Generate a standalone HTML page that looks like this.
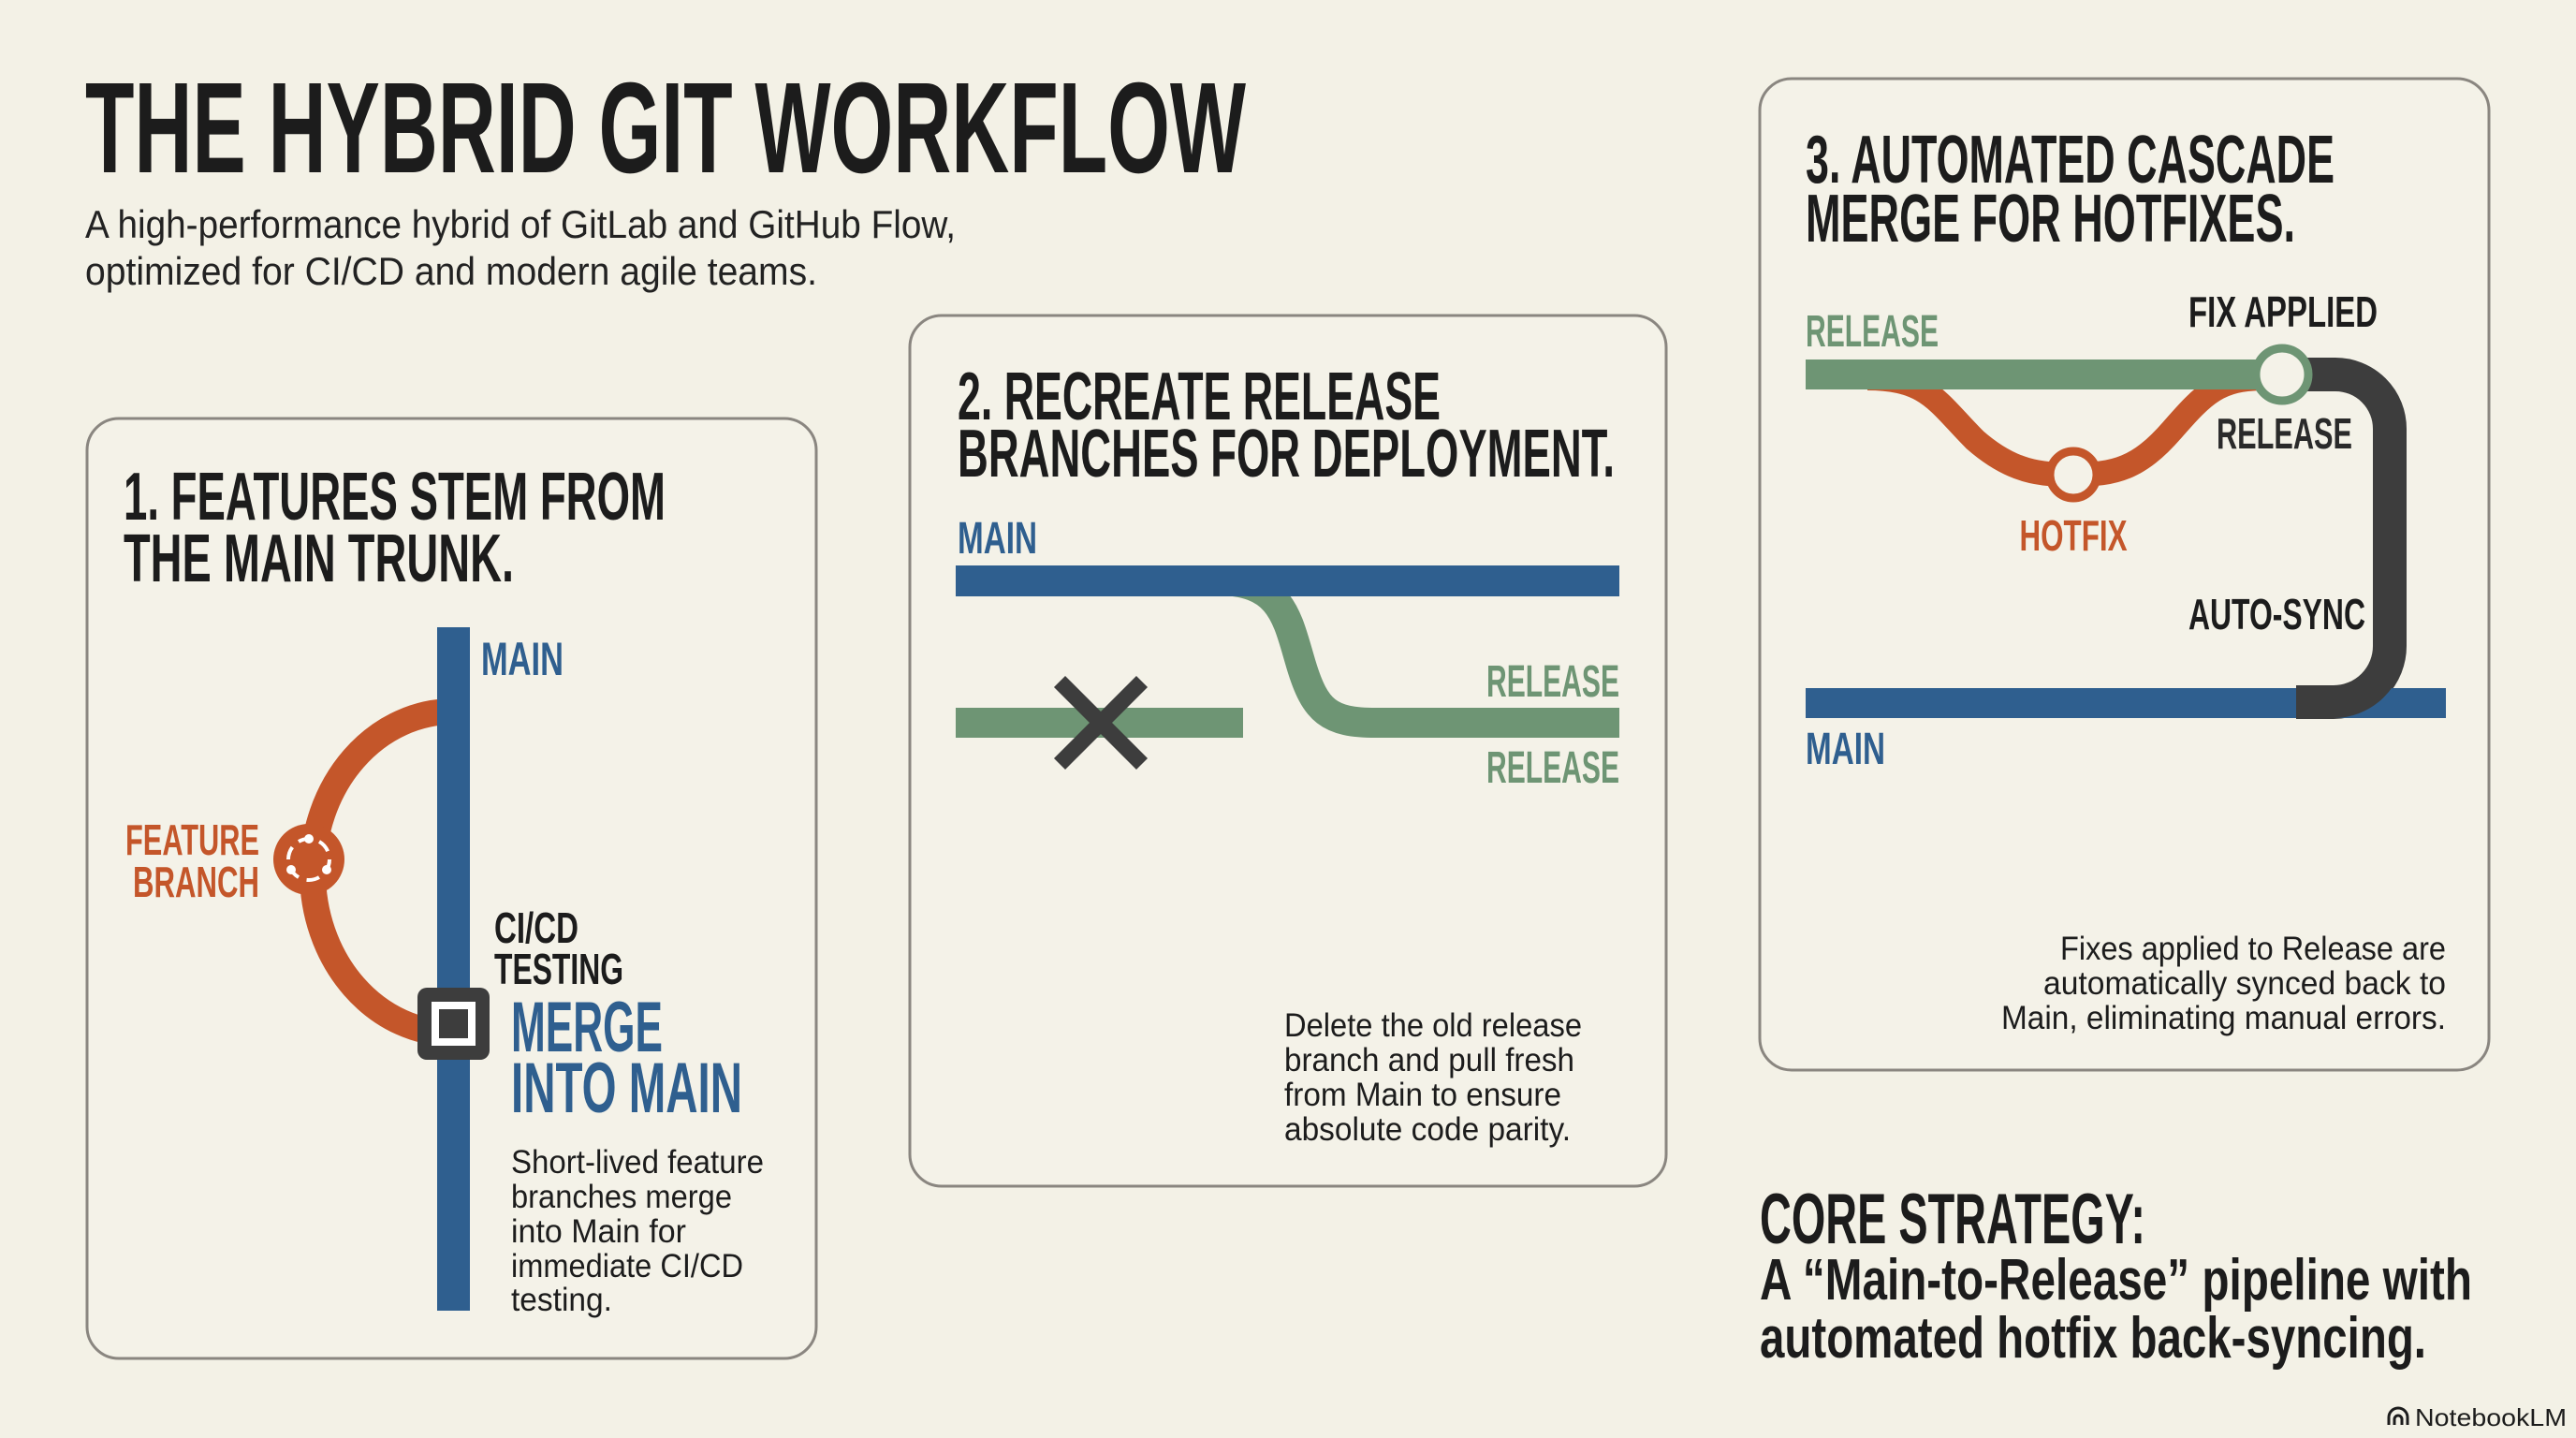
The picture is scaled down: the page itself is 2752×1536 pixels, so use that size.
<!DOCTYPE html>
<html><head><meta charset="utf-8"><style>
html,body{margin:0;padding:0;background:#f3f1e6;}
svg{display:block}
.h{font-family:"Liberation Sans Narrow","Liberation Sans",sans-serif;font-weight:bold}
.b{font-family:"Liberation Sans",sans-serif}
</style></head><body>
<svg width="2752" height="1536" viewBox="0 0 2752 1536" xmlns="http://www.w3.org/2000/svg">
<rect width="2752" height="1536" fill="#f3f1e6"/>
<!-- Title -->
<text class="h" x="91" y="184" font-size="138" fill="#1c1c1c" textLength="1240" lengthAdjust="spacingAndGlyphs">THE HYBRID GIT WORKFLOW</text>
<text class="b" x="91" y="254" font-size="42" fill="#222" textLength="930" lengthAdjust="spacingAndGlyphs">A high-performance hybrid of GitLab and GitHub Flow,</text>
<text class="b" x="91" y="304" font-size="42" fill="#222" textLength="782" lengthAdjust="spacingAndGlyphs">optimized for CI/CD and modern agile teams.</text>

<!-- Panel 1 -->
<rect x="93" y="447" width="779" height="1004" rx="34" fill="#f4f2e8" stroke="#8a8680" stroke-width="3"/>
<text class="h" x="132" y="555" font-size="72" fill="#1c1c1c" textLength="579" lengthAdjust="spacingAndGlyphs">1. FEATURES STEM FROM</text>
<text class="h" x="132" y="621" font-size="72" fill="#1c1c1c" textLength="417" lengthAdjust="spacingAndGlyphs">THE MAIN TRUNK.</text>
<path d="M484,760 A150,172 0 0 0 484,1104" fill="none" stroke="#c4562a" stroke-width="28"/>
<rect x="467" y="670" width="35" height="730" fill="#2f5f8f"/>
<text class="h" x="514" y="721" font-size="50" fill="#2f5f8f" textLength="88" lengthAdjust="spacingAndGlyphs">MAIN</text>
<circle cx="330" cy="918" r="38" fill="#c4562a"/>
<circle cx="330" cy="918" r="22" fill="none" stroke="#fff" stroke-width="4" stroke-dasharray="14 9"/>
<circle cx="330" cy="896" r="5" fill="#fff"/><circle cx="311" cy="929" r="5" fill="#fff"/><circle cx="349" cy="929" r="5" fill="#fff"/>
<text class="h" x="277" y="913" font-size="46" fill="#c4562a" text-anchor="end" textLength="143" lengthAdjust="spacingAndGlyphs">FEATURE</text>
<text class="h" x="277" y="958" font-size="46" fill="#c4562a" text-anchor="end" textLength="135" lengthAdjust="spacingAndGlyphs">BRANCH</text>
<rect x="446" y="1055" width="77" height="77" rx="10" fill="#3d3d3d"/>
<rect x="461" y="1070" width="47" height="47" fill="#fff"/>
<rect x="469" y="1078" width="31" height="31" fill="#3d3d3d"/>
<text class="h" x="528" y="1007" font-size="46" fill="#1c1c1c" textLength="90" lengthAdjust="spacingAndGlyphs">CI/CD</text>
<text class="h" x="528" y="1051" font-size="46" fill="#1c1c1c" textLength="138" lengthAdjust="spacingAndGlyphs">TESTING</text>
<text class="h" x="546" y="1123" font-size="76" fill="#2f5f8f" textLength="162" lengthAdjust="spacingAndGlyphs">MERGE</text>
<text class="h" x="546" y="1188" font-size="76" fill="#2f5f8f" textLength="247" lengthAdjust="spacingAndGlyphs">INTO MAIN</text>
<g class="b" font-size="35" fill="#1c1c1c">
<text x="546" y="1253" textLength="270" lengthAdjust="spacingAndGlyphs">Short-lived feature</text>
<text x="546" y="1290" textLength="236" lengthAdjust="spacingAndGlyphs">branches merge</text>
<text x="546" y="1327" textLength="187" lengthAdjust="spacingAndGlyphs">into Main for</text>
<text x="546" y="1364" textLength="248" lengthAdjust="spacingAndGlyphs">immediate CI/CD</text>
<text x="546" y="1400" textLength="108" lengthAdjust="spacingAndGlyphs">testing.</text>
</g>

<!-- Panel 2 -->
<rect x="972" y="337" width="808" height="930" rx="34" fill="#f4f2e8" stroke="#8a8680" stroke-width="3"/>
<text class="h" x="1023" y="448" font-size="72" fill="#1c1c1c" textLength="516" lengthAdjust="spacingAndGlyphs">2. RECREATE RELEASE</text>
<text class="h" x="1023" y="509" font-size="72" fill="#1c1c1c" textLength="702" lengthAdjust="spacingAndGlyphs">BRANCHES FOR DEPLOYMENT.</text>
<text class="h" x="1023" y="591" font-size="48" fill="#2f5f8f" textLength="85" lengthAdjust="spacingAndGlyphs">MAIN</text>
<path d="M1300,620 C1370,620 1375,660 1390,710 C1405,760 1420,772 1470,772 L1730,772" fill="none" stroke="#6e9574" stroke-width="32"/>
<rect x="1021" y="604" width="709" height="33" fill="#2f5f8f"/>
<rect x="1021" y="756" width="307" height="32" fill="#6e9574"/>
<path d="M1132,728 L1220,816 M1220,728 L1132,816" stroke="#3d3d3d" stroke-width="17"/>
<text class="h" x="1730" y="744" font-size="48" fill="#6e9574" text-anchor="end" textLength="142" lengthAdjust="spacingAndGlyphs">RELEASE</text>
<text class="h" x="1730" y="836" font-size="48" fill="#6e9574" text-anchor="end" textLength="142" lengthAdjust="spacingAndGlyphs">RELEASE</text>
<g class="b" font-size="35" fill="#1c1c1c">
<text x="1372" y="1107" textLength="318" lengthAdjust="spacingAndGlyphs">Delete the old release</text>
<text x="1372" y="1144" textLength="310" lengthAdjust="spacingAndGlyphs">branch and pull fresh</text>
<text x="1372" y="1181" textLength="296" lengthAdjust="spacingAndGlyphs">from Main to ensure</text>
<text x="1372" y="1218" textLength="306" lengthAdjust="spacingAndGlyphs">absolute code parity.</text>
</g>

<!-- Panel 3 -->
<rect x="1880" y="84" width="779" height="1059" rx="34" fill="#f4f2e8" stroke="#8a8680" stroke-width="3"/>
<text class="h" x="1929" y="195" font-size="72" fill="#1c1c1c" textLength="565" lengthAdjust="spacingAndGlyphs">3. AUTOMATED CASCADE</text>
<text class="h" x="1929" y="258" font-size="72" fill="#1c1c1c" textLength="523" lengthAdjust="spacingAndGlyphs">MERGE FOR HOTFIXES.</text>
<text class="h" x="1929" y="370" font-size="48" fill="#6e9574" textLength="142" lengthAdjust="spacingAndGlyphs">RELEASE</text>
<text class="h" x="2338" y="349" font-size="46" fill="#1c1c1c" textLength="202" lengthAdjust="spacingAndGlyphs">FIX APPLIED</text>
<path d="M1995,404 C2060,404 2070,430 2110,470 C2150,505 2180,507 2215,507 C2260,507 2285,500 2320,460 C2355,420 2370,404 2420,404" fill="none" stroke="#c4562a" stroke-width="26"/>
<path d="M2440,400 H2495 A58,58 0 0 1 2553,458 V690 A60,60 0 0 1 2493,750 H2453" fill="none" stroke="#3d3d3d" stroke-width="36"/>
<rect x="1929" y="384" width="511" height="32" fill="#6e9574"/>
<rect x="1929" y="735" width="524" height="32" fill="#2f5f8f"/>
<rect x="2453" y="735" width="160" height="32" fill="#2f5f8f"/>
<path d="M2453,751 H2493 A60,60 0 0 0 2553,691" fill="none" stroke="#3d3d3d" stroke-width="32"/>
<circle cx="2438" cy="400" r="28" fill="#f4f2e8" stroke="#6e9574" stroke-width="9"/>
<circle cx="2215" cy="507" r="25" fill="#f4f2e8" stroke="#c4562a" stroke-width="9"/>
<text class="h" x="2368" y="479" font-size="46" fill="#2a2a2a" textLength="145" lengthAdjust="spacingAndGlyphs">RELEASE</text>
<text class="h" x="2215" y="588" font-size="46" fill="#c4562a" text-anchor="middle" textLength="115" lengthAdjust="spacingAndGlyphs">HOTFIX</text>
<text class="h" x="2338" y="672" font-size="46" fill="#1c1c1c" textLength="189" lengthAdjust="spacingAndGlyphs">AUTO-SYNC</text>
<text class="h" x="1929" y="816" font-size="48" fill="#2f5f8f" textLength="85" lengthAdjust="spacingAndGlyphs">MAIN</text>
<g class="b" font-size="35" fill="#1c1c1c" text-anchor="end">
<text x="2613" y="1025" textLength="412" lengthAdjust="spacingAndGlyphs">Fixes applied to Release are</text>
<text x="2613" y="1062" textLength="430" lengthAdjust="spacingAndGlyphs">automatically synced back to</text>
<text x="2613" y="1099" textLength="475" lengthAdjust="spacingAndGlyphs">Main, eliminating manual errors.</text>
</g>

<!-- Core strategy -->
<text class="h" x="1880" y="1328" font-size="76" fill="#1c1c1c" textLength="412" lengthAdjust="spacingAndGlyphs">CORE STRATEGY:</text>
<text class="h" x="1880" y="1388" font-size="62" fill="#1c1c1c" textLength="761" lengthAdjust="spacingAndGlyphs">A “Main-to-Release” pipeline with</text>
<text class="h" x="1880" y="1450" font-size="62" fill="#1c1c1c" textLength="712" lengthAdjust="spacingAndGlyphs">automated hotfix back-syncing.</text>

<!-- NotebookLM -->
<path d="M2552,1522 v-8 a10,10 0 0 1 20,0 v8 M2558,1522 v-6 a4,4 0 0 1 8,0 v6" fill="none" stroke="#1c1c1c" stroke-width="3"/>
<text class="b" x="2580" y="1523" font-size="26" fill="#1c1c1c" textLength="162" lengthAdjust="spacingAndGlyphs">NotebookLM</text>
</svg>
</body></html>
